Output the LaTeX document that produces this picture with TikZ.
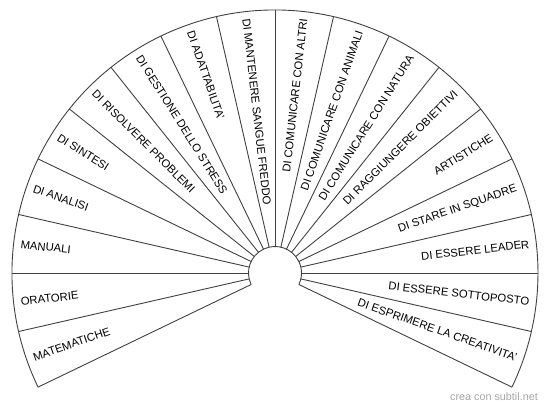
\documentclass[tikz,border=0pt]{standalone}
\usepackage{fontspec}
\setmainfont{Liberation Sans}

\begin{document}
\begin{tikzpicture}[x=1pt,y=1pt]
\tikzset{
  wheelline/.style={draw=black!75,line width=0.9pt},
  leftlabel/.style={anchor=west,inner sep=0pt,font=\fontsize{11.3}{13}\selectfont},
  rightlabel/.style={anchor=east,inner sep=0pt,font=\fontsize{11.3}{13}\selectfont},
  credit/.style={anchor=east,inner sep=0pt,text=black!35,font=\fontsize{10.8}{12}\selectfont}
}
\useasboundingbox (-275,-135) rectangle (275,273);
% arcs
\draw[wheelline] (205.714:263) arc[start angle=205.714,end angle=-25.714,radius=263];
\draw[wheelline] (205.714:26.5) arc[start angle=205.714,end angle=-25.714,radius=26.5];
% spokes
\draw[wheelline] (205.714:26.5) -- (205.714:263);
\draw[wheelline] (192.857:26.5) -- (192.857:263);
\draw[wheelline] (180.000:26.5) -- (180.000:263);
\draw[wheelline] (167.143:26.5) -- (167.143:263);
\draw[wheelline] (154.286:26.5) -- (154.286:263);
\draw[wheelline] (141.429:26.5) -- (141.429:263);
\draw[wheelline] (128.571:26.5) -- (128.571:263);
\draw[wheelline] (115.714:26.5) -- (115.714:263);
\draw[wheelline] (102.857:26.5) -- (102.857:263);
\draw[wheelline] (90.000:26.5) -- (90.000:263);
\draw[wheelline] (77.143:26.5) -- (77.143:263);
\draw[wheelline] (64.286:26.5) -- (64.286:263);
\draw[wheelline] (51.429:26.5) -- (51.429:263);
\draw[wheelline] (38.571:26.5) -- (38.571:263);
\draw[wheelline] (25.714:26.5) -- (25.714:263);
\draw[wheelline] (12.857:26.5) -- (12.857:263);
\draw[wheelline] (0.000:26.5) -- (0.000:263);
\draw[wheelline] (-12.857:26.5) -- (-12.857:263);
\draw[wheelline] (-25.714:26.5) -- (-25.714:263);
% labels, left half
\node[leftlabel,rotate=19.286] (l_matematiche) at (199.286:256) {MATEMATICHE};
\node[leftlabel,rotate=6.429] (l_oratorie) at (186.429:256) {ORATORIE};
\node[leftlabel,rotate=-6.429] (l_manuali) at (173.571:256) {MANUALI};
\node[leftlabel,rotate=-19.286] (l_analisi) at (160.714:256) {DI ANALISI};
\node[leftlabel,rotate=-32.143] (l_sintesi) at (147.857:256) {DI SINTESI};
\node[leftlabel,rotate=-45.000] (l_problemi) at (135.000:256) {DI RISOLVERE PROBLEMI};
\node[leftlabel,rotate=-57.857] (l_stress) at (122.143:256) {DI GESTIONE DELLO STRESS};
\node[leftlabel,rotate=-70.714] (l_adattabilita) at (109.286:256) {DI ADATTABILITA'};
\node[leftlabel,rotate=-83.571] (l_freddo) at (96.429:256) {DI MANTENERE SANGUE FREDDO};
% labels, right half
\node[rightlabel,rotate=83.571] (l_altri) at (83.571:256) {DI COMUNICARE CON ALTRI};
\node[rightlabel,rotate=70.714] (l_animali) at (70.714:256) {DI COMUNICARE CON ANIMALI};
\node[rightlabel,rotate=57.857] (l_natura) at (57.857:256) {DI COMUNICARE CON NATURA};
\node[rightlabel,rotate=45.000] (l_obiettivi) at (45.000:256) {DI RAGGIUNGERE OBIETTIVI};
\node[rightlabel,rotate=32.143] (l_artistiche) at (32.143:256) {ARTISTICHE};
\node[rightlabel,rotate=19.286] (l_squadre) at (19.286:256) {DI STARE IN SQUADRE};
\node[rightlabel,rotate=6.429] (l_leader) at (6.429:256) {DI ESSERE LEADER};
\node[rightlabel,rotate=-6.429] (l_sottoposto) at (-6.429:256) {DI ESSERE SOTTOPOSTO};
\node[rightlabel,rotate=-19.286] (l_creativita) at (-19.286:256) {DI ESPRIMERE LA CREATIVITA'};
% credit
\node[credit] (credit) at (263,-124) {crea con subtil.net};
\end{tikzpicture}
\end{document}
